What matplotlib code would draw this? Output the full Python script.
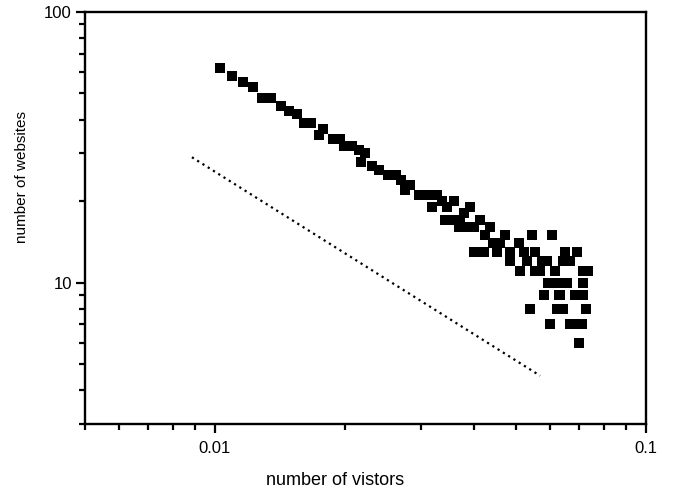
import matplotlib
matplotlib.use("Agg")
import matplotlib.pyplot as plt
from matplotlib.ticker import LogLocator, FixedLocator, FixedFormatter, NullFormatter

plt.rcParams['font.family'] = ['Liberation Sans', 'DejaVu Sans']

# visitors (fraction) and number of websites
visitors = [0.01027, 0.01098, 0.01164, 0.01224, 0.01288, 0.01351, 0.01425, 0.01487,
            0.01548, 0.01611, 0.01673, 0.01746, 0.01778, 0.01881, 0.01952, 0.01994,
            0.02086, 0.02160, 0.02178, 0.02236, 0.02315, 0.02403, 0.02521, 0.02638,
            0.02702, 0.02767, 0.02842, 0.02971, 0.03107, 0.03191, 0.03278, 0.03366,
            0.03457, 0.03580, 0.03425, 0.03580, 0.03710, 0.03777, 0.03677, 0.03846,
            0.03903, 0.03983, 0.03983, 0.04128, 0.04217, 0.04239, 0.04354, 0.04424,
            0.04513, 0.04593, 0.04717, 0.04844, 0.04844, 0.05063, 0.05109, 0.05200,
            0.05295, 0.05369, 0.05438, 0.05535, 0.05535, 0.05684, 0.05736, 0.05785,
            0.05891, 0.05941, 0.05995, 0.06049, 0.06157, 0.06213, 0.06246, 0.06323,
            0.06436, 0.06436, 0.06494, 0.06573, 0.06669, 0.06669, 0.06848, 0.06911,
            0.06911, 0.06996, 0.07098, 0.07136, 0.07159, 0.07159, 0.07262, 0.07350,
            0.06848, 0.06436, 0.06300, 0.07098]
websites = [62, 58, 55, 53, 48, 48, 45, 43,
            42, 39, 39, 35, 37, 34, 34, 32,
            32, 31, 28, 30, 27, 26, 25, 25,
            24, 22, 23, 21, 21, 19, 21, 20,
            19, 20, 17, 17, 17, 18, 16, 16,
            19, 16, 13, 17, 13, 15, 16, 14,
            13, 14, 15, 13, 12, 14, 11, 13,
            12, 8, 15, 13, 11, 11, 12, 9,
            12, 10, 7, 15, 11, 8, 10, 9,
            8, 12, 13, 10, 12, 7, 9, 13,
            7, 6, 7, 10, 9, 11, 8, 11,
            7, 10, 9, 9]

# reference power law (slope -1)
ref_x = [0.00885, 0.0568]
ref_y = [0.257 / 0.00885, 0.257 / 0.0568]

fig = plt.figure(figsize=(6.8, 4.93), dpi=100)
ax = fig.add_axes([0.125, 0.14, 0.825, 0.8357])

ax.plot(visitors, websites, linestyle='none', marker='s', markersize=6.8,
        color='black', markeredgewidth=0)
ax.plot(ref_x, ref_y, color='black', linewidth=1.6, linestyle=(0, (1, 1.8)))

ax.set_xscale('log')
ax.set_yscale('log')
ax.set_xlim(0.005, 0.1)
ax.set_ylim(3, 100)

ax.xaxis.set_major_locator(FixedLocator([0.01, 0.1]))
ax.xaxis.set_major_formatter(FixedFormatter(['0.01', '0.1']))
ax.xaxis.set_minor_locator(LogLocator(base=10, subs=range(2, 10)))
ax.xaxis.set_minor_formatter(NullFormatter())
ax.yaxis.set_major_locator(FixedLocator([10, 100]))
ax.yaxis.set_major_formatter(FixedFormatter(['10', '100']))
ax.yaxis.set_minor_locator(LogLocator(base=10, subs=range(2, 10)))
ax.yaxis.set_minor_formatter(NullFormatter())

for s in ax.spines.values():
    s.set_linewidth(1.7)
ax.tick_params(which='major', direction='out', length=6.5, width=1.6, labelsize=12, pad=3)
ax.tick_params(which='minor', direction='out', length=4, width=1.6)
ax.tick_params(axis='x', which='major', pad=6)

ax.set_xlabel('number of vistors', fontsize=13)
ax.xaxis.set_label_coords(0.446, -0.1165)
ax.set_ylabel('number of websites', fontsize=11)
ax.yaxis.set_label_coords(-0.1, 0.6)

fig.savefig('out.png', dpi=100)
